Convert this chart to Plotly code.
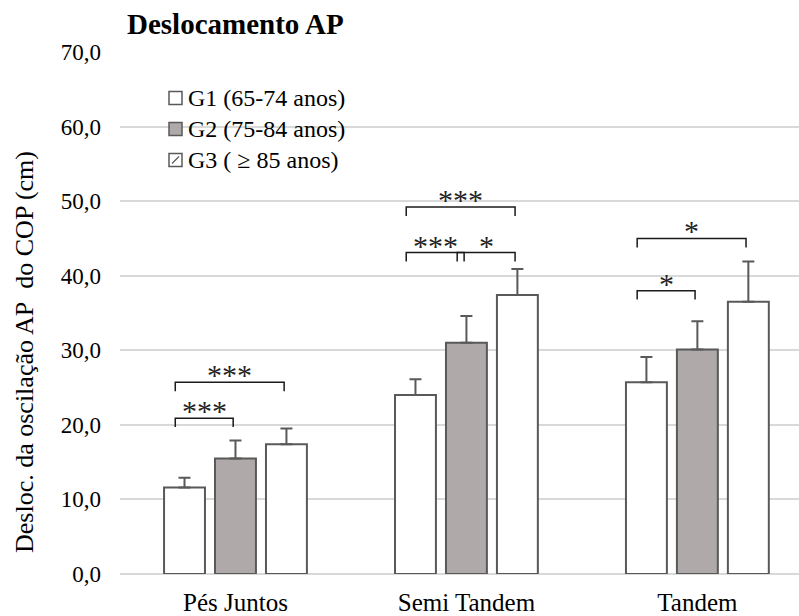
import plotly.graph_objects as go

# Stance conditions and group means / SD (cm)
categories = ["Pés Juntos", "Semi Tandem", "Tandem"]
groups = ["G1 (65-74 anos)", "G2 (75-84 anos)", "G3 ( \u2265 85 anos)"]
g1_mean = [11.6, 24.0, 25.7]
g1_sd = [1.3, 2.1, 3.4]
g2_mean = [15.5, 31.0, 30.1]
g2_sd = [2.4, 3.6, 3.8]
g3_mean = [17.4, 37.4, 36.5]
g3_sd = [2.1, 3.5, 5.4]
y_ticks = [0, 10, 20, 30, 40, 50, 60, 70]

# Significant pairwise comparisons: (condition index, group a, group b, bracket level, label)
comparisons = [
    (0, 0, 1, 20.9, "***"),
    (0, 0, 2, 25.7, "***"),
    (1, 0, 1, 43.1, "***"),
    (1, 1, 2, 43.1, "*"),
    (1, 0, 2, 49.2, "***"),
    (2, 0, 1, 38.0, "*"),
    (2, 0, 2, 45.0, "*"),
]

EDGE = "#595959"
GREY_FILL = "#AFAAA9"
FONT = "Liberation Serif"

means = [g1_mean, g2_mean, g3_mean]
sds = [g1_sd, g2_sd, g3_sd]
fills = ["white", GREY_FILL, "white"]

x_idx = list(range(len(categories)))
fig = go.Figure()
for name, m, s, fc in zip(groups, means, sds, fills):
    fig.add_trace(go.Bar(
        x=x_idx, y=m, name=name, showlegend=False,
        marker=dict(color=fc, line=dict(color=EDGE, width=2)),
        error_y=dict(type="data", symmetric=False, array=s,
                     arrayminus=[0] * len(s), color=EDGE,
                     thickness=2, width=6),
    ))

BARGAP = 0.338
slot = (1 - BARGAP) / 3


def bar_center(ci, gi):
    return ci + (gi - 1) * slot


shapes = []
annotations = []
leg = 1.2
for ci, ga, gb, lvl, lab in comparisons:
    xa = bar_center(ci, ga) - 0.04
    xb = bar_center(ci, gb) - 0.01
    shapes.append(dict(
        type="path", xref="x", yref="y",
        path=f"M {xa} {lvl - leg} L {xa} {lvl} L {xb} {lvl} L {xb} {lvl - leg}",
        line=dict(color="#1a1a1a", width=1.5),
    ))
    annotations.append(dict(
        x=(xa + xb) / 2, y=lvl, xref="x", yref="y", text=lab,
        showarrow=False, yanchor="bottom", xanchor="center",
        yshift=-11,
        font=dict(family=FONT, size=30, color="#222222"),
    ))

# Plot area geometry in pixels (for paper-referenced items)
W, H = 799, 616
L, R, T, B = 120, 0, 52, 42
pw, ph = W - L - R, H - T - B


def px(xp):
    return (xp - L) / pw


def py(yp):
    return (H - B - yp) / ph


# Legend drawn as swatches + labels
leg_rows = [98, 129, 160]
sq = 13
for i, (name, fc) in enumerate(zip(groups, fills)):
    yc = leg_rows[i]
    x0, x1 = 169, 169 + sq
    shapes.append(dict(
        type="rect", xref="paper", yref="paper",
        x0=px(x0), x1=px(x1), y0=py(yc + sq / 2), y1=py(yc - sq / 2),
        fillcolor=fc, line=dict(color=EDGE, width=1.5),
    ))
    if i == 2:
        shapes.append(dict(
            type="line", xref="paper", yref="paper",
            x0=px(x0 + 3), x1=px(x1 - 3), y0=py(yc + sq / 2 - 3), y1=py(yc - sq / 2 + 3),
            line=dict(color=EDGE, width=1.2),
        ))
    annotations.append(dict(
        x=px(186), y=py(yc), xref="paper", yref="paper", text=name,
        showarrow=False, xanchor="left", yanchor="middle",
        font=dict(family=FONT, size=24, color="black"),
    ))

# Chart title
annotations.append(dict(
    x=px(125), y=py(24), xref="paper", yref="paper",
    text="<b>Deslocamento AP</b>", showarrow=False,
    xanchor="left", yanchor="middle",
    font=dict(family=FONT, size=29, color="black"),
))

# Y-axis title
annotations.append(dict(
    x=px(24), y=py(352), xref="paper", yref="paper",
    text="Desloc. da oscilação AP\u00a0 do COP (cm)", showarrow=False,
    textangle=-90, xanchor="center", yanchor="middle",
    font=dict(family=FONT, size=26, color="black"),
))

fig.update_layout(
    width=W, height=H,
    margin=dict(l=L, r=R, t=T, b=B, autoexpand=False),
    paper_bgcolor="white", plot_bgcolor="white",
    barmode="group", bargap=BARGAP, bargroupgap=0.197,
    separators=",.",
    font=dict(family=FONT, color="black"),
    shapes=shapes, annotations=annotations,
    showlegend=False,
)
fig.update_xaxes(
    range=[-0.5, 2.44], tickvals=x_idx, ticktext=categories,
    showgrid=False, zeroline=False, showline=False, ticks="",
    ticklabelstandoff=11,
    tickfont=dict(family=FONT, size=25, color="black"),
    automargin=False,
)
fig.update_yaxes(
    range=[0, 70], tickvals=y_ticks, tickformat=".1f",
    showgrid=True, gridcolor="#D9D9D9", gridwidth=1.5,
    zeroline=True, zerolinecolor="#D9D9D9", zerolinewidth=1.5,
    showline=False, ticks="", ticklabelstandoff=18,
    tickfont=dict(family=FONT, size=23, color="black"),
    automargin=False,
)

fig.write_html("out.html")
